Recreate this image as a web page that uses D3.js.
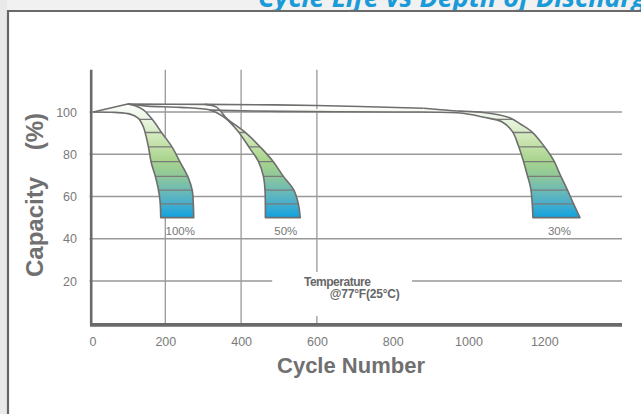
<!DOCTYPE html>
<html>
<head>
<meta charset="utf-8">
<script src="https://cdn.jsdelivr.net/npm/d3@7"></script>
<style>
body{margin:0;background:#ebebeb;overflow:hidden}
svg{display:block}
</style>
</head>
<body>
<div id="graph"></div>
<script>
"use strict"
// values: [cycles, capacity %]
var xTicks=[0,200,400,600,800,1000,1200]
var yTicks=[20,40,60,80,100]
var xGridTicks=[200,400,600]
var cellLevels=[56.5,63,69.5,76.5,83.5,90.3,96.5]
var topLine=[[10,100],[101,103.8],[305,103.6],[598,103.1],[881,101.8]]
var bandNames=['100%','50%','30%']
var band100Left=[[10,100],[67,99.8],[107,99],[129,97],[142,93],[150,88],[157,82],[163,76],[173,70],[181,64],[186,58],[188,50]]
var band100Right=[[101,103.8],[122,102.8],[143,100.9],[167,96.2],[191,90.1],[218,83.4],[239,76.3],[260,69.2],[271,63],[274,56],[275,50]]
var band50Left=[[101,103.8],[152,102.8],[239,102.2],[318,100.9],[353,97.8],[389,91.5],[423,82.8],[446,76.5],[459,69.4],[463,63.1],[464,56],[464,50]]
var band50Right=[[305,103.6],[335,102.3],[362,97],[414,89.9],[454,82.8],[485,76.5],[512,69.4],[539,63.1],[551,56.5],[556,50]]
var band30Left=[[318,100.9],[504,100.3],[801,100],[978,99.5],[1038,97.6],[1089,95.3],[1116,90.7],[1131,84.4],[1144,77.3],[1155,70.2],[1164,64],[1168,57],[1170,50]]
var band30Right=[[881,101.8],[978,100.4],[1039,99.8],[1079,98.7],[1110,97.2],[1138,94.2],[1168,90.5],[1197,84.4],[1224,77.3],[1242,70.2],[1260,63.5],[1276,57],[1294,50]]
var noteLines=['Temperature','@77°F(25°C)']

var W=641,H=414
var gray='#777'

function init(){
  var svg=d3.select('#graph').append('svg:svg').attr('width',W).attr('height',H)
  var x=d3.scaleLinear().domain([0,1400]).range([89.5,620.1])
  var y=d3.scaleLinear().domain([0,120]).range([323.25,69.75])

  // page frame
  svg.append('rect').attr('width',W).attr('height',H).attr('fill','#e9e9e9')
  svg.append('rect').attr('x',7).attr('width',W).attr('height',11).attr('fill','#f1f1f1')
  svg.append('clipPath').attr('id','titleClip').append('rect').attr('width',W).attr('height',10)
  svg.append('text').attr('x',258).attr('y',7).attr('clip-path','url(#titleClip)')
    .attr('font-family','Open Sans').attr('font-weight','bold').attr('font-style','italic')
    .attr('font-size',27).attr('fill','#1a9bd7').text('Cycle Life vs Depth of Discharge')
  svg.append('rect').attr('x',9).attr('y',12).attr('width',W).attr('height',H).attr('fill','#fff')
  svg.append('line').attr('x1',7).attr('x2',W).attr('y1',11).attr('y2',11).attr('stroke','#6a6a6a').attr('stroke-width',2)
  svg.append('line').attr('x1',8).attr('x2',8).attr('y1',10).attr('y2',H).attr('stroke','#666').attr('stroke-width',2.2)

  // grid
  var g=svg.append('g')
  g.selectAll('.hgrid').data(yTicks).enter().append('line').attr('class','hgrid')
    .attr('x1',x(0)).attr('x2',622).attr('y1',function(d){return y(d)}).attr('y2',function(d){return y(d)})
    .attr('stroke','#999').attr('stroke-width',1.3)
  g.selectAll('.vgrid').data(xGridTicks).enter().append('line').attr('class','vgrid')
    .attr('x1',function(d){return x(d)}).attr('x2',function(d){return x(d)}).attr('y1',y(120)).attr('y2',y(0))
    .attr('stroke','#999').attr('stroke-width',1.3)
  // gap in the grid behind the temperature note
  g.append('rect').attr('x',x(482)).attr('y',y(24.3)).attr('width',x(851)-x(482)).attr('height',y(3.4)-y(24.3)).attr('fill','#fff')

  // gradient shared by all bands
  var stops=[[104,'#ffffff'],[96,'#e9f4e0'],[86,'#c9e4ae'],[77,'#a8d48e'],[70,'#90c899'],[63,'#6dbab5'],[57,'#4aafcb'],[50,'#10a2de']]
  var grad=svg.append('defs').append('linearGradient').attr('id','bandGrad').attr('gradientUnits','userSpaceOnUse')
    .attr('x1',0).attr('x2',0).attr('y1',y(104)).attr('y2',y(50))
  grad.selectAll('stop').data(stops).enter().append('stop')
    .attr('offset',function(d){return (104-d[0])/54}).attr('stop-color',function(d){return d[1]})

  var edge=d3.line().x(function(d){return x(d[0])}).y(function(d){return y(d[1])}).curve(d3.curveCatmullRom.alpha(0.5))
  var bands=[[band100Left,band100Right],[band50Left,band50Right],[band30Left,band30Right]]

  bands.forEach(function(b,i){
    var l=edge(b[0])
    var r=edge(b[1].slice().reverse()).replace('M','L')
    var outline=l+r
    svg.append('clipPath').attr('id','band'+i).append('path').attr('d',outline+'Z')
    svg.append('path').attr('d',outline+'Z').attr('fill','url(#bandGrad)')
    var xs=b[0].concat(b[1]).map(function(d){return d[0]})
    svg.append('g').attr('clip-path','url(#band'+i+')').selectAll('line').data(cellLevels).enter().append('line')
      .attr('x1',x(d3.min(xs))).attr('x2',x(d3.max(xs)))
      .attr('y1',function(d){return y(d)}).attr('y2',function(d){return y(d)})
      .attr('stroke','#7a7a7a').attr('stroke-width',1.3)
    svg.append('path').attr('d',outline).attr('fill','none').attr('stroke','#6e6e6e').attr('stroke-width',1.6).attr('stroke-linejoin','round')
    var bl=b[0][b[0].length-1],br=b[1][b[1].length-1]
    svg.append('text').attr('x',(x(bl[0])+x(br[0]))/2+3).attr('y',y(50)+17).attr('text-anchor','middle')
      .attr('font-family','Liberation Sans').attr('font-size',11.5).attr('fill',gray).text(bandNames[i])
  })

  // envelope line over the tops
  var straight=d3.line().x(function(d){return x(d[0])}).y(function(d){return y(d[1])})
  svg.append('path').attr('d',straight(topLine.slice(0,2))+edge(topLine.slice(1)).replace('M','L'))
    .attr('fill','none').attr('stroke','#6e6e6e').attr('stroke-width',1.6).attr('stroke-linejoin','round')

  // axes
  var xAxis=svg.append('g').attr('transform','translate(0,'+y(0)+')')
    .call(d3.axisBottom(x).tickValues(xTicks).tickFormat(d3.format('d')).tickSize(0).tickPadding(13.4))
  var yAxis=svg.append('g').attr('transform','translate('+x(0)+',0)')
    .call(d3.axisLeft(y).tickValues(yTicks).tickSize(0).tickPadding(12.5))
  ;[xAxis,yAxis].forEach(function(a){
    a.select('.domain').remove()
    a.selectAll('text').attr('font-family','Liberation Sans').attr('font-size',12.5).attr('fill','#7a7a7a')
  })
  xAxis.selectAll('text').attr('dx',function(d){return d===0?'3':'0'})
  svg.append('line').attr('x1',91.2).attr('x2',91.2).attr('y1',y(120)).attr('y2',y(0)+2).attr('stroke','#6a6a6a').attr('stroke-width',2.6)
  svg.append('line').attr('x1',90).attr('x2',622).attr('y1',y(0)+1.6).attr('y2',y(0)+1.6).attr('stroke','#6a6a6a').attr('stroke-width',3.6)

  // titles
  svg.append('text').attr('transform','translate(43,195) rotate(-90)').attr('text-anchor','middle')
    .attr('font-family','Liberation Sans').attr('font-weight','bold').attr('font-size',24).attr('fill','#707070')
    .text('Capacity\u00a0\u00a0\u00a0\u00a0(%)')
  svg.append('text').attr('x',351).attr('y',373).attr('text-anchor','middle')
    .attr('font-family','Liberation Sans').attr('font-weight','bold').attr('font-size',22).attr('fill','#707070')
    .text('Cycle Number')

  // temperature note
  svg.append('text').attr('x',x(566)).attr('y',286).attr('font-family','Liberation Sans').attr('font-weight','bold')
    .attr('font-size',12).attr('letter-spacing',-0.5).attr('fill','#666').text(noteLines[0])
  svg.append('text').attr('x',x(634)).attr('y',298).attr('font-family','Liberation Sans').attr('font-weight','bold')
    .attr('font-size',12).attr('letter-spacing',-0.2).attr('fill','#666').text(noteLines[1])
}
init()
</script>
</body>
</html>
